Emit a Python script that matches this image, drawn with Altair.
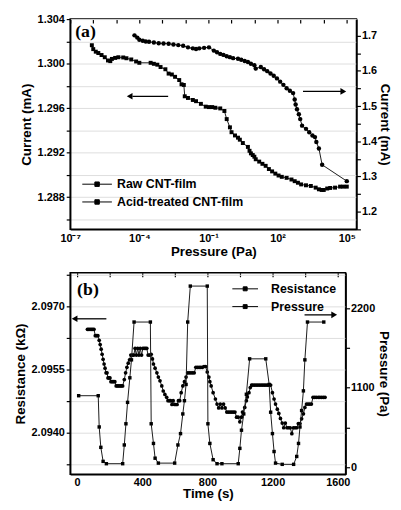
import altair as alt
import pandas as pd

# ---------------- panel (a): current vs pressure ----------------
raw_logp = [-6.06, -6.00, -5.89, -5.78, -5.64, -5.50, -5.36, -5.26, -5.19, -5.05,
            -4.91, -4.70, -4.56, -4.35, -4.14, -4.00, -3.51, -3.37, -3.22, -3.08,
            -2.87, -2.73, -2.59, -2.45, -2.27, -2.17, -2.07, -2.03, -1.89, -1.68,
            -1.54, -1.33, -1.12, -0.98, -0.84, -0.70, -0.49, -0.31, -0.21, -0.07,
            0.00, 0.15, 0.28, 0.36, 0.49, 0.71, 0.78, 0.84, 0.92, 0.99,
            1.05, 1.20, 1.34, 1.48, 1.62, 1.76, 1.90, 2.04, 2.18, 2.39,
            2.60, 2.74, 2.88, 3.02, 3.23, 3.44, 3.65, 3.79, 3.91, 4.00,
            4.15, 4.28, 4.49, 4.71, 4.85, 5.00]
raw_cur = [1.30165, 1.30130, 1.30107, 1.30095, 1.30077, 1.30057, 1.30028, 1.30022, 1.30042, 1.30051,
           1.30057, 1.30055, 1.30048, 1.30037, 1.30019, 1.30007, 1.30007, 1.29998, 1.29990, 1.29969,
           1.29949, 1.29910, 1.29902, 1.29881, 1.29852, 1.29814, 1.29808, 1.29706, 1.29691, 1.29673,
           1.29662, 1.29638, 1.29613, 1.29609, 1.29609, 1.29603, 1.29597, 1.29574, 1.29501, 1.29427,
           1.29383, 1.29354, 1.29334, 1.29316, 1.29286, 1.29251, 1.29216, 1.29193, 1.29178, 1.29163,
           1.29140, 1.29119, 1.29099, 1.29081, 1.29052, 1.29031, 1.29011, 1.28994, 1.28982, 1.28973,
           1.28958, 1.28943, 1.28929, 1.28914, 1.28906, 1.28900, 1.28885, 1.28870, 1.28864, 1.28864,
           1.28877, 1.28882, 1.28885, 1.28894, 1.28894, 1.28894]

acid_logp = [-4.21, -4.09, -4.00, -3.85, -3.72, -3.58, -3.37, -3.16, -2.95, -2.73,
             -2.52, -2.31, -2.10, -1.89, -1.68, -1.54, -1.40, -1.19, -0.98, -0.77,
             -0.63, -0.49, -0.35, -0.21, -0.07, 0.07, 0.28, 0.42, 0.57, 0.71,
             0.84, 0.99, 1.05, 1.27, 1.41, 1.55, 1.69, 1.83, 1.97, 2.11,
             2.25, 2.39, 2.53, 2.67, 2.74, 2.78, 2.84, 2.92, 2.98, 3.06,
             3.23, 3.37, 3.51, 3.62, 3.68, 3.79, 3.93, 5.00]
acid_cur = [1.7008, 1.6944, 1.6881, 1.6853, 1.6833, 1.6825, 1.6806, 1.6786, 1.6778, 1.6769,
            1.6750, 1.6731, 1.6714, 1.6667, 1.6639, 1.6619, 1.6639, 1.6653, 1.6667, 1.6575,
            1.6528, 1.6481, 1.6453, 1.6417, 1.6389, 1.6361, 1.6342, 1.6314, 1.6278, 1.6250,
            1.6203, 1.6158, 1.6064, 1.6111, 1.6047, 1.5992, 1.5925, 1.5861, 1.5786, 1.5694,
            1.5603, 1.5508, 1.5436, 1.5369, 1.5186, 1.5047, 1.4908, 1.4769, 1.4630, 1.4444,
            1.4353, 1.4258, 1.4167, 1.4119, 1.3981, 1.3797, 1.3333, 1.2869]

series_a = ["Raw CNT-film", "Acid-treated CNT-film"]

# ---------------- panel (b): resistance / pressure vs time ----------------
res_t = [64, 72, 80, 88, 96, 104, 112, 120, 128, 136, 142, 148, 154, 160, 166, 172, 178, 184,
         190, 196, 202, 208, 216, 224, 232, 240, 248, 256, 264, 272, 280, 290, 298, 306, 314,
         322, 330, 340, 348, 356, 364, 372, 380, 388, 396, 404, 412, 420, 428, 436, 446, 455,
         463, 469, 479, 490, 499, 509, 520, 529, 539, 550, 558, 566, 574, 582, 590, 598, 606,
         614, 622, 630, 639, 649, 659, 669, 679, 689, 699, 709, 719, 729, 739, 749, 759, 769,
         779, 789, 799, 809, 815, 823, 835, 849, 859, 869, 879, 889, 899, 909, 919, 929, 939,
         949, 959, 969, 979, 989, 999, 1009, 1015, 1029, 1039, 1045, 1055, 1063, 1071, 1079,
         1089, 1099, 1109, 1119, 1129, 1139, 1149, 1159, 1169, 1179, 1188, 1199, 1209, 1218,
         1229, 1238, 1248, 1259, 1268, 1278, 1288, 1298, 1308, 1318, 1328, 1338, 1348, 1358,
         1368, 1378, 1389, 1398, 1408, 1418, 1428, 1438, 1448, 1458, 1468, 1480, 1490, 1501,
         1512, 1522]
res_r = [2.09645, 2.09645, 2.09645, 2.09645, 2.09645, 2.09645, 2.09630, 2.09630, 2.09630, 2.09619,
         2.09609, 2.09598, 2.09586, 2.09574, 2.09563, 2.09553, 2.09542, 2.09542, 2.09530, 2.09530,
         2.09530, 2.09521, 2.09521, 2.09521, 2.09521, 2.09511, 2.09511, 2.09511, 2.09511, 2.09511,
         2.09511, 2.09526, 2.09542, 2.09555, 2.09565, 2.09573, 2.09584, 2.09584, 2.09584, 2.09600,
         2.09584, 2.09600, 2.09584, 2.09600, 2.09584, 2.09600, 2.09600, 2.09600, 2.09600, 2.09584,
         2.09584, 2.09586, 2.09575, 2.09563, 2.09553, 2.09542, 2.09532, 2.09523, 2.09511, 2.09499,
         2.09491, 2.09484, 2.09476, 2.09476, 2.09476, 2.09467, 2.09476, 2.09467, 2.09467, 2.09467,
         2.09476, 2.09476, 2.09495, 2.09511, 2.09521, 2.09532, 2.09542, 2.09542, 2.09542, 2.09542,
         2.09542, 2.09555, 2.09555, 2.09555, 2.09555, 2.09555, 2.09557, 2.09557, 2.09544, 2.09532,
         2.09521, 2.09511, 2.09495, 2.09480, 2.09468, 2.09459, 2.09468, 2.09459, 2.09468, 2.09459,
         2.09449, 2.09449, 2.09449, 2.09449, 2.09449, 2.09449, 2.09437, 2.09437, 2.09426, 2.09437,
         2.09449, 2.09460, 2.09476, 2.09485, 2.09495, 2.09507, 2.09513, 2.09513, 2.09513, 2.09513,
         2.09513, 2.09513, 2.09513, 2.09513, 2.09513, 2.09513, 2.09513, 2.09513, 2.09513, 2.09495,
         2.09480, 2.09468, 2.09456, 2.09446, 2.09434, 2.09423, 2.09412, 2.09423, 2.09412, 2.09412,
         2.09412, 2.09398, 2.09412, 2.09412, 2.09412, 2.09422, 2.09422, 2.09433, 2.09445, 2.09460,
         2.09468, 2.09468, 2.09468, 2.09468, 2.09484, 2.09484, 2.09484, 2.09484, 2.09484, 2.09484,
         2.09484, 2.09484]

pres_t = [10, 130, 136, 146, 160, 180, 280, 290, 300, 310, 324, 334, 350, 450, 455, 469, 479,
          499, 599, 619, 635, 649, 659, 669, 679, 695, 799, 803, 815, 835, 859, 889, 989, 999,
          1009, 1023, 1039, 1059, 1158, 1179, 1188, 1199, 1209, 1218, 1259, 1329, 1348, 1359,
          1368, 1378, 1389, 1398, 1414, 1514]
pres_p = [990, 990, 558, 276, 82, 50, 50, 309, 602, 898, 1238, 1486, 2009, 2009, 602, 330, 126,
          58, 58, 309, 466, 738, 921, 1146, 2009, 2506, 2506, 602, 330, 105, 50, 50, 50, 262,
          513, 738, 1010, 1500, 1500, 1146, 762, 466, 218, 58, 41, 41, 150, 330, 558, 785, 1057,
          1486, 2009, 2009]

series_b = ["Resistance", "Pressure"]

# ---------------- styling ----------------
FONT = "Liberation Sans"
LINE = "#1a1a1a"
legend_sym = "M-3,0H3M-0.45,-0.45H0.45V0.45H-0.45Z"
legend_sym_b = "M-2.6,0H2.6M-0.4,-0.4H0.4V0.4H-0.4Z"

df_raw = pd.DataFrame({"p": [10 ** v for v in raw_logp], "i": raw_cur, "s": series_a[0]})
df_acid = pd.DataFrame({"p": [10 ** v for v in acid_logp], "i": acid_cur, "s": series_a[1]})

exp = "round(log(datum.value)/LN10)"
sup = "['\u2070','\u00b9','\u00b2','\u00b3','\u2074','\u2075','\u2076','\u2077','\u2078','\u2079']"
log_label = (f"indexof([-7,-4,-1,2,5], {exp}) >= 0 ? '10' + ({exp} < 0 ? '\u207b' : '') + "
             f"{sup}[abs({exp})] : ''")

xa = alt.X("p:Q",
           scale=alt.Scale(type="log", domain=[1e-7, 10 ** 5.42], nice=False),
           axis=alt.Axis(title="Pressure (Pa)", values=[10.0 ** k for k in range(-7, 6)],
                         labelExpr=log_label, ticks=False, grid=True, gridDash=[4, 1000],
                         gridColor="black", gridWidth=1.2, labelPadding=3, titlePadding=1,
                         labelFlush=False))

ya_left = alt.Y("i:Q", scale=alt.Scale(domain=[1.2851, 1.304], nice=False, zero=False),
                axis=alt.Axis(title="Current (mA)", orient="left",
                              values=[1.286, 1.288, 1.290, 1.292, 1.294, 1.296, 1.298, 1.300, 1.302, 1.304],
                              labelExpr="abs(round(datum.value*1000) % 4) == 0 ? format(datum.value, '.3f') : ''",
                              titlePadding=4))
ya_right = alt.Y("i:Q", scale=alt.Scale(domain=[1.15, 1.747], nice=False, zero=False),
                 axis=alt.Axis(title="Current (mA)", orient="right",
                               values=[1.15, 1.2, 1.25, 1.3, 1.35, 1.4, 1.45, 1.5, 1.55, 1.6, 1.65, 1.7],
                               labelExpr="abs(round(datum.value*100) % 10) == 0 ? format(datum.value, '.1f') : ''",
                               labelPadding=1, titlePadding=1))

col_a = alt.Color("s:N", scale=alt.Scale(domain=series_a, range=["black", "black"]),
                  legend=alt.Legend(title=None, orient="none", legendX=21, legendY=161,
                                    symbolType=legend_sym, symbolSize=100, symbolStrokeWidth=1,
                                    symbolStrokeColor="black", symbolFillColor="black",
                                    labelOffset=14, labelFontSize=12.5, labelFont=FONT,
                                    labelFontWeight="bold", labelColor="black", rowPadding=5,
                                    padding=0))

raw_line = alt.Chart(df_raw).mark_line(color=LINE, strokeWidth=1).encode(x=xa, y=ya_left)
raw_pts = alt.Chart(df_raw).mark_point(shape="square", filled=True, size=16, opacity=1).encode(
    x=xa, y=ya_left, color=col_a)
acid_line = alt.Chart(df_acid).mark_line(color=LINE, strokeWidth=1).encode(x=xa, y=ya_right)
acid_pts = alt.Chart(df_acid).mark_point(shape="circle", filled=True, size=20, opacity=1).encode(
    x=xa, y=ya_right, color=col_a)

# arrows (a)
arrL = pd.DataFrame({"p": [10 ** -4.3], "p2": [10 ** -2.75], "i": [1.29706]})
arrLh = pd.DataFrame({"p": [10 ** -4.42], "i": [1.29706]})
arrR = pd.DataFrame({"p": [10 ** 3.1], "p2": [10 ** 4.75], "i": [1.5417]})
arrRh = pd.DataFrame({"p": [10 ** 4.85], "i": [1.5417]})
arrL_rule = alt.Chart(arrL).mark_rule(color="black", strokeWidth=1.3).encode(x=xa, x2="p2:Q", y=ya_left)
arrL_head = alt.Chart(arrLh).mark_point(shape="triangle-left", filled=True, size=45, color="black",
                                        opacity=1).encode(x=xa, y=ya_left)
arrR_rule = alt.Chart(arrR).mark_rule(color="black", strokeWidth=1.3).encode(x=xa, x2="p2:Q", y=ya_right)
arrR_head = alt.Chart(arrRh).mark_point(shape="triangle-right", filled=True, size=45, color="black",
                                        opacity=1).encode(x=xa, y=ya_right)

lab_a = alt.Chart(pd.DataFrame({"t": ["(a)"]})).mark_text(
    font="Liberation Serif", fontWeight="bold", fontSize=18, align="left", baseline="alphabetic",
    color="black").encode(x=alt.value(5), y=alt.value(18), text="t:N")

left_a = alt.layer(raw_line, raw_pts, arrL_rule, arrL_head, lab_a)
right_a = alt.layer(acid_line, acid_pts, arrR_rule, arrR_head)
chart_a = alt.layer(left_a, right_a).resolve_scale(y="independent").properties(width=290, height=213)

# ---------------- panel (b) ----------------
df_res = pd.DataFrame({"t": res_t, "v": res_r, "s": series_b[0]})
df_pres = pd.DataFrame({"t": pres_t, "v": pres_p, "s": series_b[1]})

xb = alt.X("t:Q", scale=alt.Scale(domain=[-42, 1648], nice=False, zero=False),
           axis=alt.Axis(title="Time (s)", values=[0, 200, 400, 600, 800, 1000, 1200, 1400, 1600],
                         labelExpr="datum.value % 400 == 0 ? datum.value : ''",
                         ticks=False, grid=True, gridDash=[4, 1000], gridColor="black", gridWidth=1.2,
                         labelPadding=2, titlePadding=0, labelFlush=False))
yb_left = alt.Y("v:Q", scale=alt.Scale(domain=[2.09302, 2.09779], nice=False, zero=False),
                axis=alt.Axis(title="Resistance (k\u03a9)", orient="left",
                              values=[2.09325, 2.0940, 2.09475, 2.0955, 2.09625, 2.0970, 2.09775],
                              labelExpr="abs(round(datum.value*100000) % 150) == 0 ? format(datum.value, '.4f') : ''",
                              titlePadding=4))
yb_right = alt.Y("v:Q", scale=alt.Scale(domain=[-95, 2690], nice=False, zero=False),
                 axis=alt.Axis(title="Pressure (Pa)", orient="right",
                               values=[0, 550, 1100, 1650, 2200],
                               labelExpr="datum.value % 1100 == 0 ? datum.value : ''",
                               labelPadding=1, titlePadding=2))
col_b = alt.Color("s:N", scale=alt.Scale(domain=series_b, range=["black", "black"]),
                  legend=alt.Legend(title=None, orient="none", legendX=171, legendY=10,
                                    symbolType=legend_sym_b, symbolSize=100, symbolStrokeWidth=1,
                                    symbolStrokeColor="black", symbolFillColor="black",
                                    labelOffset=20, labelFontSize=12.5, labelFont=FONT,
                                    labelFontWeight="bold", labelColor="black", rowPadding=5,
                                    padding=0))

res_line = alt.Chart(df_res).mark_line(color=LINE, strokeWidth=1).encode(x=xb, y=yb_left)
res_pts = alt.Chart(df_res).mark_point(shape="circle", filled=True, size=14, opacity=1).encode(
    x=xb, y=yb_left, color=col_b)
pres_line = alt.Chart(df_pres).mark_line(color=LINE, strokeWidth=1).encode(x=xb, y=yb_right)
pres_pts = alt.Chart(df_pres).mark_point(shape="square", filled=True, size=12, opacity=1).encode(
    x=xb, y=yb_right, color=col_b)

brL = pd.DataFrame({"t": [-5], "t2": [180], "v": [2.09670]})
brLh = pd.DataFrame({"t": [-15], "v": [2.09670]})
brR = pd.DataFrame({"t": [1396], "t2": [1565], "v": [2108]})
brRh = pd.DataFrame({"t": [1578], "v": [2108]})
brL_rule = alt.Chart(brL).mark_rule(color="black", strokeWidth=1.3).encode(x=xb, x2="t2:Q", y=yb_left)
brL_head = alt.Chart(brLh).mark_point(shape="triangle-left", filled=True, size=45, color="black",
                                      opacity=1).encode(x=xb, y=yb_left)
brR_rule = alt.Chart(brR).mark_rule(color="black", strokeWidth=1.3).encode(x=xb, x2="t2:Q", y=yb_right)
brR_head = alt.Chart(brRh).mark_point(shape="triangle-right", filled=True, size=45, color="black",
                                      opacity=1).encode(x=xb, y=yb_right)

lab_b = alt.Chart(pd.DataFrame({"t": ["(b)"]})).mark_text(
    font="Liberation Serif", fontWeight="bold", fontSize=18, align="left", baseline="alphabetic",
    color="black").encode(x=alt.value(7), y=alt.value(23), text="t:N")

left_b = alt.layer(res_line, res_pts, brL_rule, brL_head, lab_b)
right_b = alt.layer(pres_line, pres_pts, brR_rule, brR_head)
chart_b = alt.layer(left_b, right_b).resolve_scale(y="independent").properties(width=279, height=204)

chart = alt.vconcat(chart_a, chart_b, spacing=13).resolve_scale(color="independent").properties(
    padding={"left": 4, "top": 1, "right": 0, "bottom": 0}
).configure_view(stroke="black", strokeWidth=1.5).configure_axis(
    labelFont=FONT, labelFontSize=11, labelFontWeight="bold", labelColor="black",
    titleFont=FONT, titleFontSize=13.5, titleFontWeight="bold", titleColor="black",
    domainColor="black", domainWidth=1.5, tickColor="black", tickWidth=1.2, tickSize=4,
    labelPadding=2
)

chart.save("out.html", embed_options={"renderer": "svg", "actions": False})
